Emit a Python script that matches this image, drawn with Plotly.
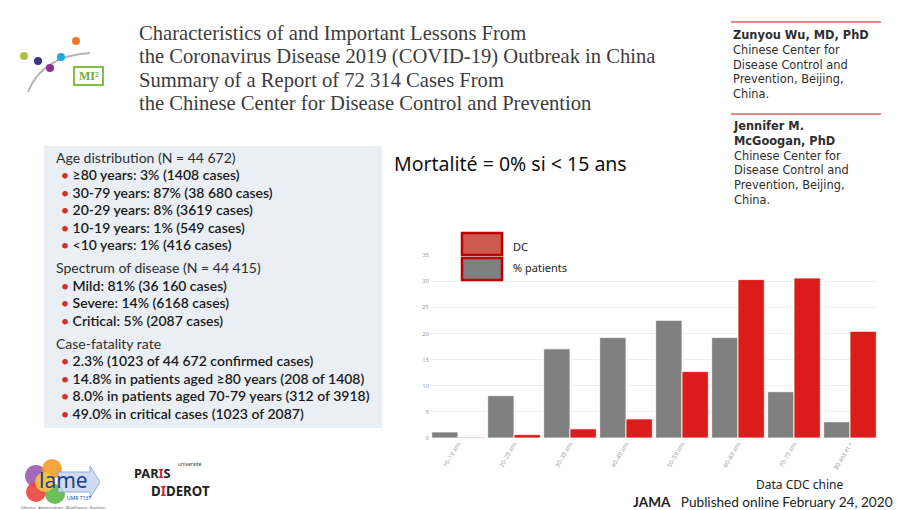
import plotly.graph_objects as go

# ---- data ----
age_groups = ["10–19 ans", "20–29 ans", "30–39 ans", "40–49 ans",
              "50–59 ans", "60–69 ans", "70–79 ans", "80 ans et +"]
pct_patients = [1.15, 8.1, 17.05, 19.2, 22.5, 19.2, 8.85, 3.1]
pct_dc = [0.15, 0.65, 1.75, 3.65, 12.7, 30.3, 30.6, 20.4]
y_ticks = [0, 5, 10, 15, 20, 25, 30, 35]

title_lines = [
    "Characteristics of and Important Lessons From",
    "the Coronavirus Disease 2019 (COVID-19) Outbreak in China",
    "Summary of a Report of 72 314 Cases From",
    "the Chinese Center for Disease Control and Prevention",
]
box_lines = [
    ("h", "Age distribution (N = 44 672)"),
    ("b", "≥80 years: 3% (1408 cases)"),
    ("b", "30-79 years: 87% (38 680 cases)"),
    ("b", "20-29 years: 8% (3619 cases)"),
    ("b", "10-19 years: 1% (549 cases)"),
    ("b", "<10 years: 1% (416 cases)"),
    ("h", "Spectrum of disease (N = 44 415)"),
    ("b", "Mild: 81% (36 160 cases)"),
    ("b", "Severe: 14% (6168 cases)"),
    ("b", "Critical: 5% (2087 cases)"),
    ("h", "Case-fatality rate"),
    ("b", "2.3% (1023 of 44 672 confirmed cases)"),
    ("b", "14.8% in patients aged ≥80 years (208 of 1408)"),
    ("b", "8.0% in patients aged 70-79 years (312 of 3918)"),
    ("b", "49.0% in critical cases (1023 of 2087)"),
]
box_y = [157, 174.5, 192, 209.5, 227, 244.5, 267, 285, 302.5, 320, 343, 360.5, 378, 395.5, 413]
author1 = ["<b>Zunyou Wu, MD, PhD</b>", "Chinese Center for", "Disease Control and",
           "Prevention, Beijing,", "China."]
author2 = ["<b>Jennifer M.</b>", "<b>McGoogan, PhD</b>", "Chinese Center for",
           "Disease Control and", "Prevention, Beijing,", "China."]

# ---- geometry (screen pixels; page body adds an 8px offset) ----
OFF = 8
W, H = 912 - OFF, 510 - OFF
L, R, T, B = 430, 878, 255, 438   # plot area in screen pixels


def xp(px):
    return (px - L) / (R - L)


def yp(py):
    return (B - py) / (B - T)


fig = go.Figure()
fig.add_trace(go.Bar(x=age_groups, y=pct_patients, name="% patients",
                     marker=dict(color="#808080", line=dict(color="white", width=0.8)),
                     showlegend=False))
fig.add_trace(go.Bar(x=age_groups, y=pct_dc, name="DC",
                     marker=dict(color="#dc1c1a", line=dict(color="white", width=0.8)),
                     showlegend=False))

shapes = []
annotations = []


def text(t, x, y, size, color="#222222", family="Noto Sans", anchor="left", weight=None,
         yanchor="middle", align="left", pad=1):
    f = dict(family=family, size=size, color=color)
    if weight:
        f["weight"] = weight
    annotations.append(dict(text=t, xref="paper", yref="paper", x=xp(x), y=yp(y),
                            xanchor=anchor, yanchor=yanchor, align=align, borderpad=pad,
                            showarrow=False, font=f))


# title
for i, t in enumerate(title_lines):
    text(t, 137, 33.5 + i * 23.3, 20.6, "#3c3c3c", "Liberation Serif")

# MI2 logo
shapes.append(dict(type="path", xref="paper", yref="paper",
                   path=f"M {xp(28)} {yp(92)} Q {xp(42)} {yp(56)} {xp(90)} {yp(53)}",
                   line=dict(color="#b4b4b4", width=2)))
for cx, cy, col in [(24, 56, "#a8c43c"), (38, 61, "#3b3480"), (50, 68, "#8c2f8c"),
                    (61, 57, "#22a6df"), (76, 41, "#f0762a")]:
    shapes.append(dict(type="circle", xref="paper", yref="paper",
                       x0=xp(cx - 4), x1=xp(cx + 4), y0=yp(cy - 4), y1=yp(cy + 4),
                       fillcolor=col, line=dict(width=0)))
shapes.append(dict(type="rect", xref="paper", yref="paper", x0=xp(74), x1=xp(103),
                   y0=yp(67), y1=yp(85), fillcolor="white",
                   line=dict(color="#7cbf4a", width=2)))
text("<b>MI²</b>", 88.5, 76.5, 12, "#6cae3a", "Liberation Serif", anchor="center")

# left info box
shapes.append(dict(type="rect", xref="paper", yref="paper", x0=xp(44), x1=xp(382),
                   y0=yp(146), y1=yp(428), fillcolor="#e9eff4", line=dict(width=0), layer="below"))
for (kind, txt), yy in zip(box_lines, box_y):
    if kind == "h":
        text(txt, 54, yy, 14, "#2e2e2e", "Lato")
    else:
        text("<span style='color:#d03030'>•</span> " + txt, 59, yy, 14, "#1a1a1a", "Lato",
             weight=600)

# authors
for y_line in (22, 114):
    shapes.append(dict(type="line", xref="paper", yref="paper", x0=xp(731), x1=xp(881),
                       y0=yp(y_line), y1=yp(y_line), line=dict(color="#e06060", width=1.5)))
text("<br>".join(author1), 731, 25.5, 11.4, "#2e2e2e", "DejaVu Sans", yanchor="top")
text("<br>".join(author2), 731, 117, 11.4, "#2e2e2e", "DejaVu Sans", yanchor="top")

# Mortalité note
text("Mortalité = 0% si < 15 ans", 392, 163, 19.5, "#111111")

# custom legend
shapes.append(dict(type="rect", xref="paper", yref="paper", x0=xp(462), x1=xp(502),
                   y0=yp(233), y1=yp(255), fillcolor="#cc5a4e",
                   line=dict(color="#c00000", width=2.5)))
shapes.append(dict(type="rect", xref="paper", yref="paper", x0=xp(462), x1=xp(502),
                   y0=yp(258), y1=yp(280), fillcolor="#808080",
                   line=dict(color="#c00000", width=2.5)))
text("DC", 511, 246, 11)
text("% patients", 511, 267, 11)

# footer texts
text("Data CDC chine", 754, 484, 12)
text("<b>JAMA</b>   Published online February 24, 2020", 632, 501.5, 13.6, "#222222", "Lato",
     pad=0)

# lame logo approximation
for cx, cy, r, col in [(36, 476, 11, "#9a5ab0"), (52, 469, 10, "#f39a2c"),
                       (36, 492, 10, "#e9453b"), (55, 494, 10, "#5cb848"),
                       (45, 482, 10, "#f6c445")]:
    shapes.append(dict(type="circle", xref="paper", yref="paper",
                       x0=xp(cx - r), x1=xp(cx + r), y0=yp(cy - r), y1=yp(cy + r),
                       fillcolor=col, line=dict(width=0), opacity=0.9))
shapes.append(dict(type="path", xref="paper", yref="paper",
                   path=(f"M {xp(58)} {yp(472)} L {xp(90)} {yp(472)} L {xp(90)} {yp(466)} "
                         f"L {xp(100)} {yp(482)} L {xp(90)} {yp(498)} L {xp(90)} {yp(492)} "
                         f"L {xp(58)} {yp(492)} Z"),
                   fillcolor="#c9d8f0", line=dict(color="#8aa6d8", width=1), opacity=0.9))
text("lame", 63, 480, 21, "#1d3f8f", anchor="center")
text("UMR 7137", 79, 498, 5, "#1d3f8f", anchor="center")
text("Infection · Antimicrobiens · Modélisation · Évolution", 63, 507, 3.5, "#555555",
     anchor="center")

# Paris Diderot
text("université", 189, 463.5, 5, "#333333", anchor="center", pad=0)
text("<b>PAR<span style='color:#d02030'>I</span>S</b>", 133, 473, 12.8, "#222222", pad=0)
text("<b>D<span style='color:#d02030'>I</span>DEROT</b>", 150, 491, 13.3, "#222222", pad=0)

fig.update_layout(
    width=W, height=H,
    margin=dict(l=L - OFF, r=W - (R - OFF), t=T - OFF, b=H - (B - OFF)),
    paper_bgcolor="white", plot_bgcolor="white",
    barmode="group", bargap=0.06, bargroupgap=0,
    shapes=shapes, annotations=annotations,
    xaxis=dict(tickangle=-60, tickfont=dict(family="Noto Sans", size=6, color="#a0a0a0"),
               showgrid=False, showline=False, ticks=""),
    yaxis=dict(range=[0, 35], tickvals=y_ticks, ticksuffix="%",
               tickfont=dict(family="Noto Sans", size=6, color="#a0a0a0"),
               gridcolor="#eeeeee", gridwidth=1, zeroline=False, showline=False),
)

fig.write_html("out.html")
